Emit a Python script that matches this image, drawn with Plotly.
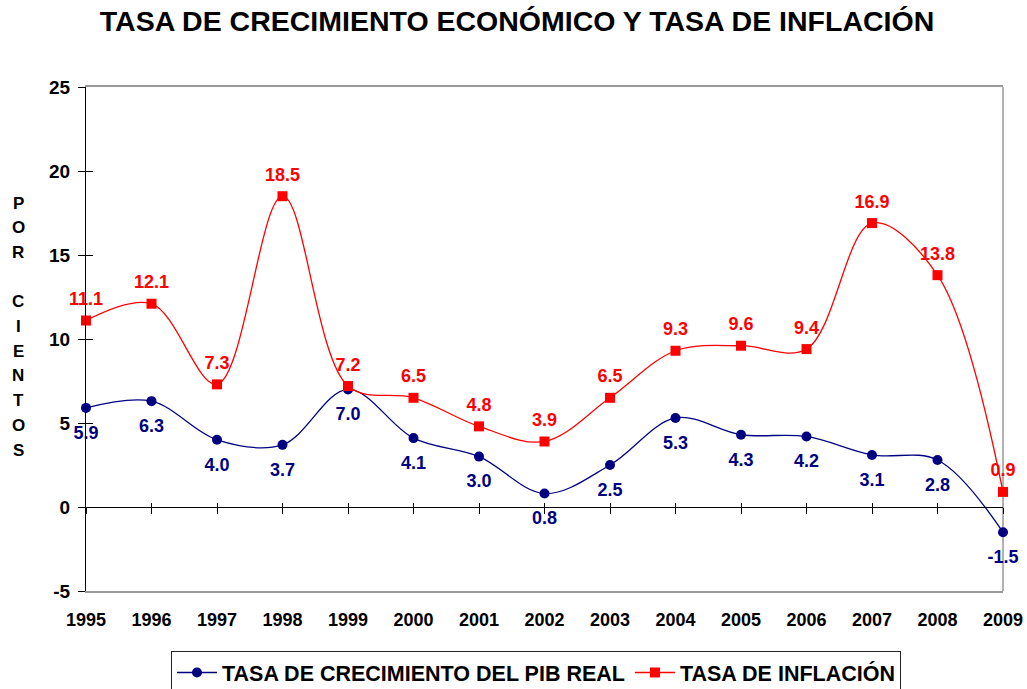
import plotly.graph_objects as go

years = [1995, 1996, 1997, 1998, 1999, 2000, 2001, 2002, 2003, 2004, 2005, 2006, 2007, 2008, 2009]
pib = [5.9, 6.3, 4.0, 3.7, 7.0, 4.1, 3.0, 0.8, 2.5, 5.3, 4.3, 4.2, 3.1, 2.8, -1.5]
inflacion = [11.1, 12.1, 7.3, 18.5, 7.2, 6.5, 4.8, 3.9, 6.5, 9.3, 9.6, 9.4, 16.9, 13.8, 0.9]
y_ticks = [-5, 0, 5, 10, 15, 20, 25]
title_text = "TASA DE CRECIMIENTO ECONÓMICO Y TASA DE INFLACIÓN"
name_pib = "TASA DE CRECIMIENTO DEL PIB REAL"
name_inf = "TASA DE INFLACIÓN"
y_title_letters = ["P", "O", "R", "", "C", "I", "E", "N", "T", "O", "S"]

FONT = "Liberation Sans, Arial, sans-serif"
BLUE = "#000080"
RED = "#FF0000"

fig = go.Figure()
fig.add_trace(go.Scatter(
    x=years, y=pib, name=name_pib, mode="lines+markers",
    line=dict(color=BLUE, width=1.3, shape="spline", smoothing=1.0),
    marker=dict(symbol="circle", size=10, color=BLUE),
    cliponaxis=False,
))
fig.add_trace(go.Scatter(
    x=years, y=inflacion, name=name_inf, mode="lines+markers",
    line=dict(color=RED, width=1.3, shape="spline", smoothing=1.0),
    marker=dict(symbol="square", size=10, color=RED),
    cliponaxis=False,
))
# data labels (transparent larger markers give the label offset)
fig.add_trace(go.Scatter(
    x=years, y=pib, mode="text+markers", showlegend=False, hoverinfo="skip",
    marker=dict(size=26, color="rgba(0,0,0,0)"),
    text=[f"{v:.1f}" for v in pib], textposition="bottom center",
    textfont=dict(family=FONT, size=18, color=BLUE, weight="bold"),
    cliponaxis=False,
))
fig.add_trace(go.Scatter(
    x=years, y=inflacion, mode="text+markers", showlegend=False, hoverinfo="skip",
    marker=dict(size=16, color="rgba(0,0,0,0)"),
    text=[f"{v:.1f}" for v in inflacion], textposition="top center",
    textfont=dict(family=FONT, size=18, color=RED, weight="bold"),
    cliponaxis=False,
))

W, H = 1027, 689
L, T = 86, 87
plot_right, plot_bottom = 1003, 591
R, B = W - plot_right, H - plot_bottom
plot_h = plot_bottom - T
plot_w = plot_right - L
ymin, ymax = -5, 25
zero_pos = (0 - ymin) / (ymax - ymin)

fig.update_layout(
    width=W, height=H,
    margin=dict(l=L, r=R, t=T, b=B, autoexpand=False),
    paper_bgcolor="white", plot_bgcolor="white",
    font=dict(family=FONT, color="black"),
    title=dict(text="<b>" + title_text + "</b>", x=517 / W, xref="container", xanchor="center",
               y=1 - 21 / H, yref="container", yanchor="middle",
               font=dict(family=FONT, size=28.5, color="black")),
    showlegend=True,
    legend=dict(orientation="h", x=(536 - L) / plot_w, xanchor="center",
                y=-(651 - plot_bottom) / plot_h, yanchor="top",
                bordercolor="#222222", borderwidth=1, bgcolor="white",
                font=dict(family=FONT, size=21.5, color="black", weight="bold"),
                itemwidth=40, tracegroupgap=0),
    xaxis=dict(range=[years[0], years[-1]], tickmode="array", tickvals=years,
               ticktext=[str(y) for y in years], showgrid=False, zeroline=False,
               showline=True, linecolor="#999999", linewidth=1.5, mirror=True, ticks="",
               tickfont=dict(family=FONT, size=18, color="black", weight="bold"),
               ticklabelstandoff=12, automargin=False),
    xaxis2=dict(range=[years[0], years[-1]], overlaying="x", anchor="free", position=zero_pos,
                tickmode="array", tickvals=years, showticklabels=False, showgrid=False,
                zeroline=False, showline=True, linecolor="black", linewidth=1.2,
                ticks="outside", ticklen=6, tickcolor="black", tickwidth=1.2, automargin=False),
    xaxis3=dict(range=[years[0], years[-1]], overlaying="x", anchor="free", position=zero_pos,
                tickmode="array", tickvals=years, showticklabels=False, showgrid=False,
                zeroline=False, showline=False,
                ticks="inside", ticklen=4, tickcolor="black", tickwidth=1.2, automargin=False),
    yaxis=dict(range=[ymin, ymax], tickmode="array", tickvals=y_ticks,
               ticktext=[str(v) for v in y_ticks], showgrid=False,
               zeroline=False, showline=True, linecolor="black", linewidth=1.2,
               ticks="outside", ticklen=7, tickcolor="black", tickwidth=1.2,
               tickfont=dict(family=FONT, size=19, color="black", weight="bold"),
               ticklabelstandoff=4, automargin=False),
    yaxis2=dict(range=[ymin, ymax], overlaying="y", side="left", anchor="x",
                tickmode="array", tickvals=y_ticks, showticklabels=False, showgrid=False,
                zeroline=False, showline=False, ticks="inside", ticklen=7,
                tickcolor="black", tickwidth=1.2, automargin=False),
)

# right border (gray) of plot area
fig.add_shape(type="line", xref="paper", yref="paper", x0=1, x1=1, y0=0, y1=1,
              line=dict(color="#999999", width=1.5), layer="below")

# invisible helper traces so the overlay axes are drawn
fig.add_trace(go.Scatter(x=[years[0]], y=[0], xaxis="x2", yaxis="y", mode="markers",
                         marker=dict(opacity=0), showlegend=False, hoverinfo="skip"))
fig.add_trace(go.Scatter(x=[years[0]], y=[0], xaxis="x3", yaxis="y2", mode="markers",
                         marker=dict(opacity=0), showlegend=False, hoverinfo="skip"))

# vertical y-axis title, one letter per line
top_px, step_px = 203, 24.7
for i, ch in enumerate(y_title_letters):
    if not ch:
        continue
    ypx = top_px + i * step_px
    fig.add_annotation(text="<b>" + ch + "</b>", xref="paper", yref="paper",
                       x=(18 - L) / plot_w, y=(plot_bottom - ypx) / plot_h,
                       xanchor="center", yanchor="middle", showarrow=False,
                       font=dict(family=FONT, size=17, color="black"))

fig.write_html(
    "out.html",
    config={"displayModeBar": False},
    post_script="document.body.style.margin='0';document.body.style.overflow='hidden';",
)
